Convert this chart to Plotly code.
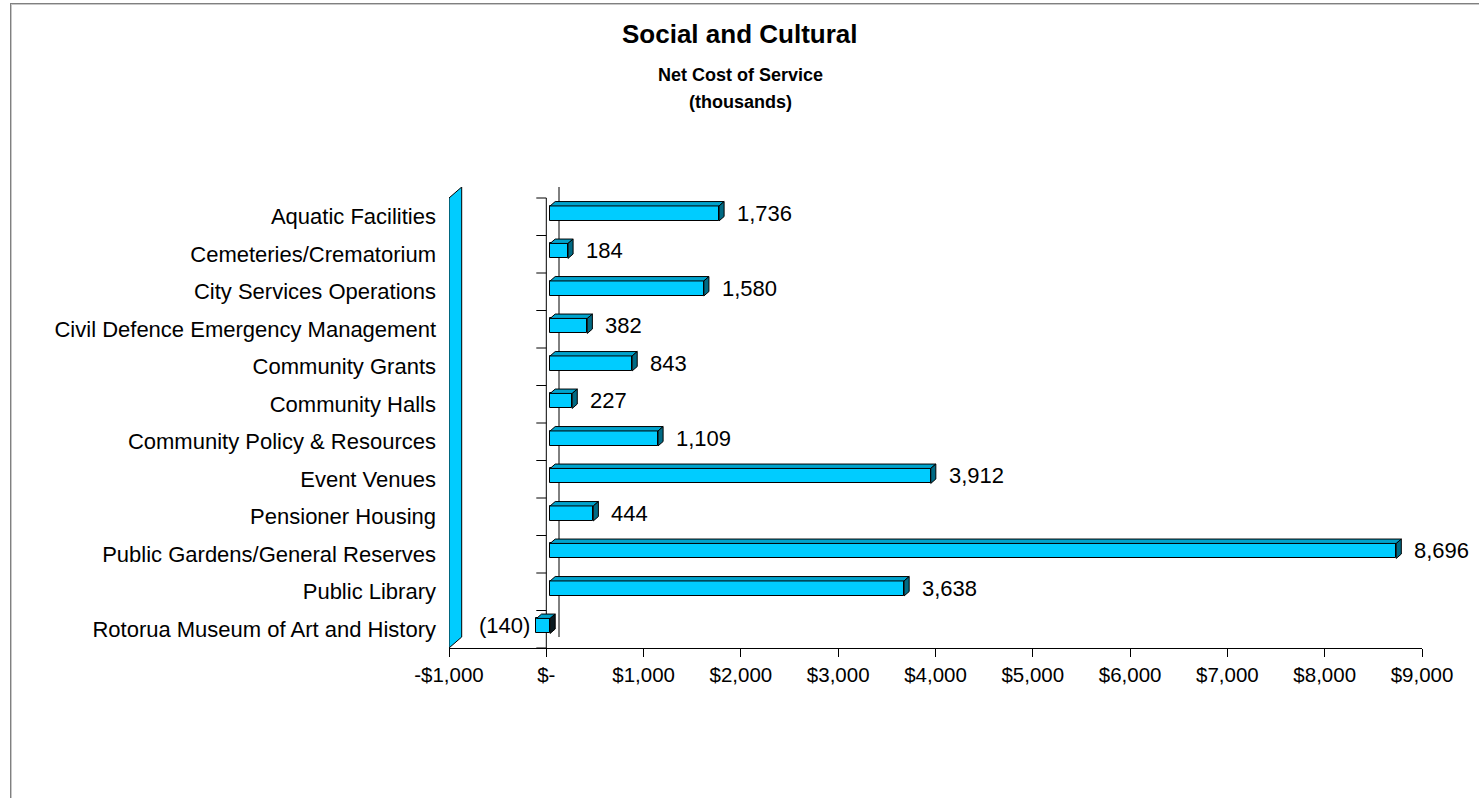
import plotly.graph_objects as go

# ---- data -------------------------------------------------------------
categories = [
    "Aquatic Facilities",
    "Cemeteries/Crematorium",
    "City Services Operations",
    "Civil Defence Emergency Management",
    "Community Grants",
    "Community Halls",
    "Community Policy & Resources",
    "Event Venues",
    "Pensioner Housing",
    "Public Gardens/General Reserves",
    "Public Library",
    "Rotorua Museum of Art and History",
]
net_cost = [1736, 184, 1580, 382, 843, 227, 1109, 3912, 444, 8696, 3638, -140]

tick_values = [-1000, 0, 1000, 2000, 3000, 4000, 5000, 6000, 7000, 8000, 9000]
tick_labels = ["-$1,000", "$-", "$1,000", "$2,000", "$3,000", "$4,000",
               "$5,000", "$6,000", "$7,000", "$8,000", "$9,000"]

# ---- geometry ---------------------------------------------------------
W, H = 1479, 798
ML, MR, MT, MB = 449, 57, 187, 150
X_MIN, X_MAX = -1000, 9000
n = len(categories)

px_per_x = (W - ML - MR) / (X_MAX - X_MIN)      # pixels per data unit
band_px = 37.5                                  # pixels per category
depth_x = 12.7 / px_per_x                        # 3-D depth in x data units
depth_y = 11.0 / band_px                         # 3-D depth in category units
Y_MIN, Y_MAX = -0.5, n - 0.5 + depth_y

front_frac, bar_frac = 0.3, 0.4                  # where the bars sit in depth
off_x, off_y = front_frac * depth_x, front_frac * depth_y
bdx, bdy = bar_frac * depth_x, bar_frac * depth_y
bar_w = 0.4

FRONT = "#00CCFF"
TOP = "#00A3CC"
SIDE = "#006A84"
SIDE_DARK = "#0A1A20"
FONT = "Liberation Sans, Arial, sans-serif"

pos = [n - 1 - i for i in range(n)]              # first category on top
yc = [p + off_y for p in pos]


def px_to_paper_x(px):
    return (px - ML) / (W - ML - MR)


def px_to_paper_y(py):
    return (H - MB - py) / (H - MT - MB)


fig = go.Figure()

# front faces of the bars
fig.add_trace(go.Bar(
    orientation="h", x=net_cost, y=yc, base=off_x, width=bar_w,
    marker=dict(color=FRONT, line=dict(color="black", width=1)),
    hoverinfo="skip", showlegend=False,
))

# top faces and end faces of the 3-D bars
top_x, top_y = [], []
side = {SIDE: ([], []), SIDE_DARK: ([], [])}
for v, y in zip(net_cost, yc):
    x0, x1 = sorted([off_x, off_x + v])
    yt, yb = y + bar_w / 2, y - bar_w / 2
    top_x += [x0, x1, x1 + bdx, x0 + bdx, x0, None]
    top_y += [yt, yt, yt + bdy, yt + bdy, yt, None]
    col = SIDE if v >= 0 else SIDE_DARK
    sx, sy = side[col]
    sx += [x1, x1, x1 + bdx, x1 + bdx, x1, None]
    sy += [yb, yt, yt + bdy, yb + bdy, yb, None]

fig.add_trace(go.Scatter(
    x=top_x, y=top_y, mode="lines", fill="toself", fillcolor=TOP,
    line=dict(color="black", width=1), hoverinfo="skip", showlegend=False,
))
for col, (sx, sy) in side.items():
    fig.add_trace(go.Scatter(
        x=sx, y=sy, mode="lines", fill="toself", fillcolor=col,
        line=dict(color="black", width=1), hoverinfo="skip", showlegend=False,
    ))

# ---- walls and axis decoration ---------------------------------------
shapes = []
# left floor wall
wall = (f"M {X_MIN},{Y_MIN} L {X_MIN + depth_x},{Y_MIN + depth_y} "
        f"L {X_MIN + depth_x},{n - 0.5 + depth_y} L {X_MIN},{n - 0.5} Z")
shapes.append(dict(type="path", path=wall, xref="x", yref="y",
                   fillcolor=FRONT, line=dict(color="black", width=1),
                   layer="below"))
# back zero line
shapes.append(dict(type="line", xref="x", yref="y",
                   x0=depth_x, x1=depth_x, y0=Y_MIN + depth_y, y1=n - 0.5 + depth_y,
                   line=dict(color="black", width=1), layer="below"))
# front category axis with its tick marks
shapes.append(dict(type="line", xref="x", yref="y",
                   x0=0, x1=0, y0=Y_MIN, y1=n - 0.5,
                   line=dict(color="black", width=1), layer="below"))
tick_len = 10 / px_per_x
for k in range(n + 1):
    shapes.append(dict(type="line", xref="x", yref="y",
                       x0=-tick_len, x1=0, y0=k - 0.5, y1=k - 0.5,
                       line=dict(color="black", width=1), layer="below"))

# outer frame of the chart area
shapes.append(dict(type="line", xref="paper", yref="paper",
                   x0=px_to_paper_x(10.5), x1=px_to_paper_x(10.5),
                   y0=px_to_paper_y(3), y1=px_to_paper_y(820),
                   line=dict(color="#808080", width=1)))
shapes.append(dict(type="line", xref="paper", yref="paper",
                   x0=px_to_paper_x(11.5), x1=px_to_paper_x(11.5),
                   y0=px_to_paper_y(4), y1=px_to_paper_y(820),
                   line=dict(color="#C8C8C8", width=1)))
shapes.append(dict(type="line", xref="paper", yref="paper",
                   x0=px_to_paper_x(10), x1=px_to_paper_x(1500),
                   y0=px_to_paper_y(3.5), y1=px_to_paper_y(3.5),
                   line=dict(color="#808080", width=1)))
shapes.append(dict(type="line", xref="paper", yref="paper",
                   x0=px_to_paper_x(11), x1=px_to_paper_x(1500),
                   y0=px_to_paper_y(4.5), y1=px_to_paper_y(4.5),
                   line=dict(color="#C8C8C8", width=1)))

# ---- labels -----------------------------------------------------------
annotations = []
for v, y in zip(net_cost, yc):
    txt = f"{v:,}" if v >= 0 else f"({abs(v):,})"
    annotations.append(dict(
        x=off_x + v, y=y, xref="x", yref="y", text=txt, showarrow=False,
        xanchor="left" if v >= 0 else "right", yanchor="middle",
        xshift=16 if v >= 0 else -4,
        font=dict(family=FONT, size=22, color="black"),
    ))

title_x = px_to_paper_x(740)
for text, py, size in [("Social and Cultural", 34, 26),
                       ("Net Cost of Service", 75, 18),
                       ("(thousands)", 102, 18)]:
    annotations.append(dict(
        x=title_x, y=px_to_paper_y(py), xref="paper", yref="paper",
        text=f"<b>{text}</b>", showarrow=False, xanchor="center", yanchor="middle",
        font=dict(family=FONT, size=size, color="black"),
    ))

fig.update_layout(
    width=W, height=H,
    margin=dict(l=ML, r=MR, t=MT, b=MB, pad=0),
    paper_bgcolor="white", plot_bgcolor="white",
    shapes=shapes, annotations=annotations,
    showlegend=False, bargap=0,
    xaxis=dict(
        range=[X_MIN, X_MAX], tickvals=tick_values, ticktext=tick_labels,
        showgrid=False, zeroline=False, showline=True, linecolor="black",
        linewidth=1, ticks="outside", ticklen=8, tickcolor="black",
        tickfont=dict(family=FONT, size=20.5, color="black"),
        fixedrange=True,
    ),
    yaxis=dict(
        range=[Y_MIN, Y_MAX], tickvals=pos, ticktext=categories,
        showgrid=False, zeroline=False, showline=False, ticks="",
        ticklabelstandoff=12,
        tickfont=dict(family=FONT, size=22, color="black"),
        fixedrange=True,
    ),
)

fig.write_html("out.html")
